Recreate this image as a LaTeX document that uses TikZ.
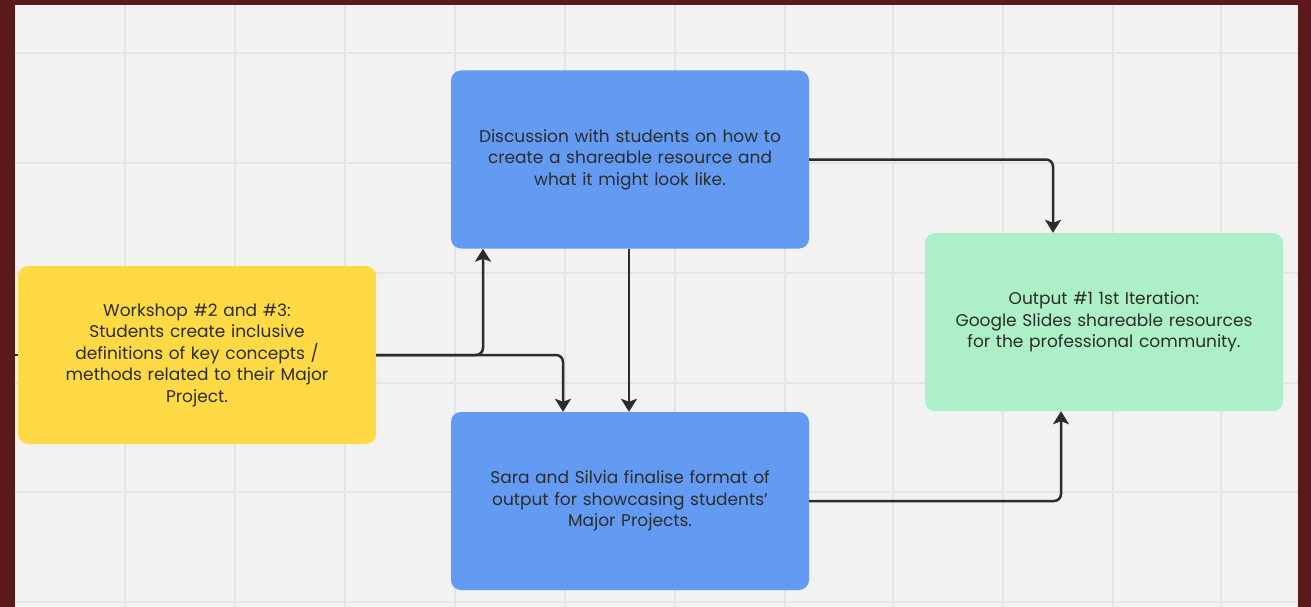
\documentclass[tikz,border=0pt]{standalone}
\usepackage{fontspec}
\setmainfont{Poppins}
\usetikzlibrary{arrows.meta, positioning}

\definecolor{frame}{HTML}{5C191B}
\definecolor{canvas}{HTML}{F2F2F2}
\definecolor{gridline}{HTML}{E4E4E4}
\definecolor{stickyyellow}{HTML}{FFDA45}
\definecolor{stickyblue}{HTML}{639BF2}
\definecolor{stickygreen}{HTML}{ADF0C8}
\definecolor{ink}{HTML}{2C2C2C}

\begin{document}
\begin{tikzpicture}[
    x=1pt, y=-1pt,
    % Define node styles
    card/.style={
        rectangle,
        rounded corners=10pt,
        minimum width=358pt,
        minimum height=178pt,
        text width=340pt,
        align=center,
        text=ink,
        font=\fontsize{17}{21.5}\selectfont,
        inner sep=0pt
    },
    workshop/.style={card, fill=stickyyellow},
    task/.style={card, fill=stickyblue},
    output/.style={card, fill=stickygreen},
    flow/.style={
        draw=ink,
        line width=2.5pt,
        rounded corners=7pt,
        -{Stealth[length=13pt, width=16pt, inset=3pt]}
    }
]
    % Frame and board
    \fill[frame] (0,0) rectangle (1311,607);
    \fill[canvas] (15,5) rectangle (1298,607);
    \useasboundingbox (0,0) rectangle (1311,607);
    \begin{scope}
        \clip (15,5) rectangle (1298,607);
        \foreach \gx in {125,235,345,455,565,675,785,893,1003,1113,1221}
            \draw[gridline, line width=2pt] (\gx,5) -- (\gx,607);
        \foreach \gy in {53,163,273,383,492,602}
            \draw[gridline, line width=2pt] (15,\gy) -- (1298,\gy);
    \end{scope}

    % Cards
    \node[workshop] (workshop) at (197,355) {Workshop \#2 and \#3:\\
        Students create inclusive\\
        definitions of key concepts /\\
        methods related to their Major\\
        Project.};
    \node[task] (discussion) at (630,159.5) {Discussion with students on how to\\
        create a shareable resource and\\
        what it might look like.};
    \node[task] (finalise) at (630,501) {Sara and Silvia finalise format of\\
        output for showcasing students'\\
        Major Projects.};
    \node[output] (output) at (1104,322) {Output \#1 1st Iteration:\\
        Google Slides shareable resources\\
        for the professional community.};

    % Incoming connector stub at the board edge
    \coordinate (offboard) at (13,355);
    \draw[draw=ink, line width=2.5pt] (offboard) -- (workshop.west);

    % Connectors
    \draw[flow] (workshop.east) -| ([xshift=-147pt]discussion.south);
    \draw[flow] (workshop.east) -| ([xshift=-67pt]finalise.north);
    \draw[flow] ([xshift=-1pt]discussion.south) -- ([xshift=-1pt]finalise.north);
    \draw[flow] (discussion.east) -| ([xshift=-51pt]output.north);
    \draw[flow] (finalise.east) -| ([xshift=-43pt]output.south);
\end{tikzpicture}
\end{document}
